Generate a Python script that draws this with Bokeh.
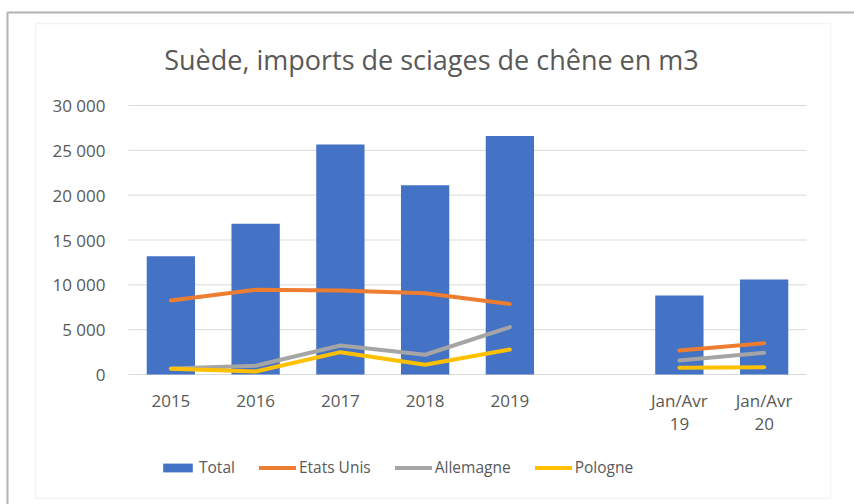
from bokeh.plotting import figure
from bokeh.models import (Range1d, ColumnDataSource, Legend, LegendItem,
                          BoxAnnotation, Grid)
from bokeh.core.properties import value
from bokeh.embed import file_html
from bokeh.resources import INLINE
import numpy as np

# ---- data ----
categories = ["2015", "2016", "2017", "2018", "2019", "", "Jan/Avr\n19", "Jan/Avr\n20"]
total      = [13200, 16800, 25650, 21100, 26600, np.nan, 8800, 10600]
etats_unis = [8250, 9450, 9370, 9070, 7850, np.nan, 2680, 3490]
allemagne  = [670, 970, 3230, 2200, 5280, np.nan, 1560, 2420]
pologne    = [640, 330, 2490, 1080, 2790, np.nan, 750, 810]
y_ticks = [0, 5000, 10000, 15000, 20000, 25000, 30000]
y_labels = ["0", "5 000", "10 000", "15 000", "20 000", "25 000", "30 000"]
title_text = "Suède, imports de sciages de chêne en m3"

FONT = "Open Sans"
TXT = "#595959"
GRID = "#D9D9D9"

# ---- layout (canvas pixels) ----
W, H = 854, 504
PLOT_L, PLOT_R = 128, 806      # plot area left/right
PLOT_T, PLOT_B = 105, 374      # plot area top (=30000) / bottom (=0)
Y_MAX = y_ticks[-1]
n = len(categories)
slot = (PLOT_R - PLOT_L) / n
ypp = Y_MAX / (PLOT_B - PLOT_T)   # data units per pixel

def dx(px):
    return (px - PLOT_L) / slot

def dy(py):
    return (PLOT_B - py) * ypp

x_pos = [i + 0.5 for i in range(n)]
label_line1 = [c.split("\n")[0] for c in categories]
label_line2 = [c.split("\n")[1] if "\n" in c else "" for c in categories]

src = ColumnDataSource(dict(x=x_pos, cat=categories, total=total,
                            us=etats_unis, de=allemagne, pl=pologne))

p = figure(width=W, height=H,
           x_range=Range1d(dx(0), dx(W)), y_range=Range1d(dy(H), dy(0)),
           output_backend="svg", toolbar_location=None,
           x_axis_location=None, y_axis_location=None,
           min_border=0)
p.outline_line_color = None
p.background_fill_color = "white"
p.border_fill_color = "white"
for r in p.center:
    if isinstance(r, Grid):
        r.visible = False

# gridlines (horizontal, across the plot area)
p.segment(x0=[0] * len(y_ticks), x1=[n] * len(y_ticks), y0=y_ticks, y1=y_ticks,
          line_color=GRID, line_width=1)

bars = p.vbar(x="x", top="total", width=0.57, source=src,
              fill_color="#4472C4", line_color=None)
l_us = p.line(x="x", y="us", source=src, line_color="#ED7D31",
              line_width=4, line_cap="round", line_join="round")
l_de = p.line(x="x", y="de", source=src, line_color="#A5A5A5",
              line_width=4, line_cap="round", line_join="round")
l_pl = p.line(x="x", y="pl", source=src, line_color="#FFC000",
              line_width=4, line_cap="round", line_join="round")

# y tick labels
p.text(x=[dx(PLOT_L - 23)] * len(y_ticks), y=y_ticks, text=y_labels,
       text_align="right", text_baseline="middle",
       text_font=value(FONT), text_font_size="17px", text_color=TXT)

# x tick labels (two lines)
p.text(x=x_pos, y=[dy(PLOT_B + 26)] * n, text=label_line1,
       text_align="center", text_baseline="middle",
       text_font=value(FONT), text_font_size="17px", text_color=TXT)
p.text(x=x_pos, y=[dy(PLOT_B + 49)] * n, text=label_line2,
       text_align="center", text_baseline="middle",
       text_font=value(FONT), text_font_size="17px", text_color=TXT)

# title
p.text(x=[dx(431)], y=[dy(59)], text=[title_text],
       text_align="center", text_baseline="middle",
       text_font=value(FONT), text_font_size="27px", text_color=TXT)

legend = Legend(items=[
    LegendItem(label="Total", renderers=[bars]),
    LegendItem(label="Etats Unis", renderers=[l_us]),
    LegendItem(label="Allemagne", renderers=[l_de]),
    LegendItem(label="Pologne", renderers=[l_pl]),
], orientation="horizontal", location=(159, 26),
    glyph_width=37, glyph_height=11, label_standoff=3, spacing=24,
    label_text_font=FONT, label_text_font_size="15.5px", label_text_color=TXT,
    border_line_color=None, background_fill_alpha=0, padding=0, margin=0)
p.add_layout(legend, "center")

# chart-area border (light grey) and outer picture border (black)
p.add_layout(BoxAnnotation(left=35, right=830, top=23, bottom=498,
                           left_units="canvas", right_units="canvas",
                           top_units="canvas", bottom_units="canvas",
                           fill_color=None, fill_alpha=0,
                           line_color=GRID, line_width=1.5))
p.add_layout(BoxAnnotation(left=7, right=W + 20, top=12, bottom=H + 20,
                           left_units="canvas", right_units="canvas",
                           top_units="canvas", bottom_units="canvas",
                           fill_color=None, fill_alpha=0,
                           line_color="black", line_width=2))

with open("out.html", "w") as f:
    f.write(file_html(p, INLINE))
